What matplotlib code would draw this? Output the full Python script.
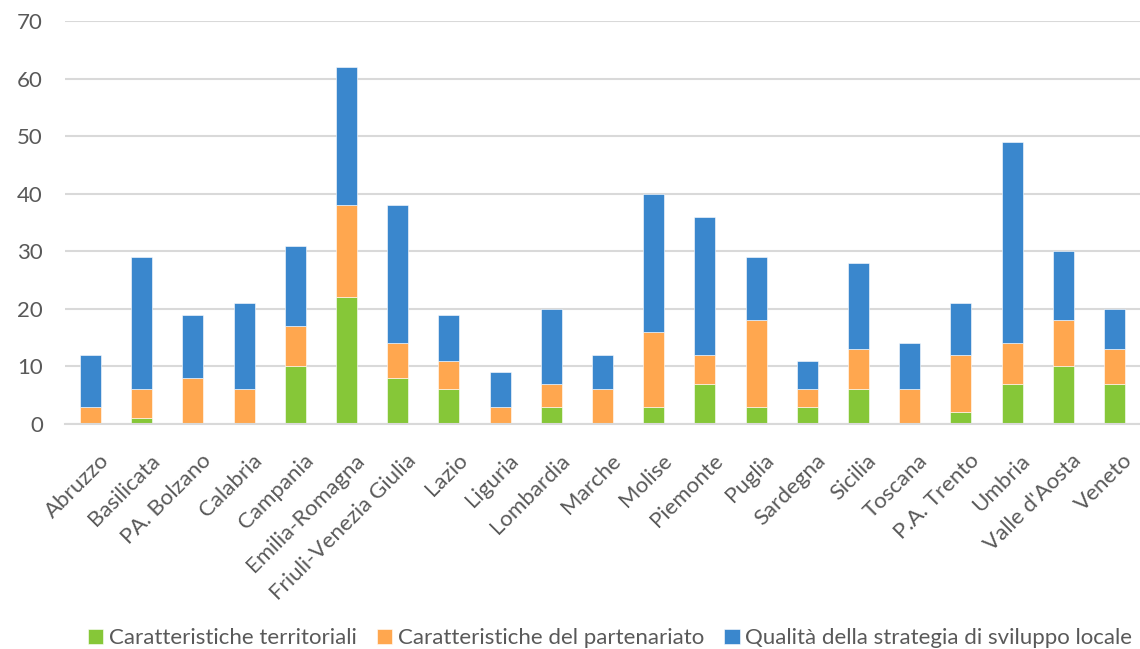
import numpy as np
import matplotlib.pyplot as plt
import matplotlib.transforms as mtransforms

plt.rcParams['font.family'] = ['Lato', 'DejaVu Sans']

regioni = ['Abruzzo', 'Basilicata', 'PA. Bolzano', 'Calabria', 'Campania',
           'Emilia-Romagna', 'Friuli-Venezia Giulia', 'Lazio', 'Liguria',
           'Lombardia', 'Marche', 'Molise', 'Piemonte', 'Puglia', 'Sardegna',
           'Sicilia', 'Toscana', 'P.A. Trento', 'Umbria', "Valle d'Aosta",
           'Veneto']

territoriali = [0, 1, 0, 0, 10, 22, 8, 6, 0, 3, 0, 3, 7, 3, 3, 6, 0, 2, 7, 10, 7]
partenariato = [3, 5, 8, 6, 7, 16, 6, 5, 3, 4, 6, 13, 5, 15, 3, 7, 6, 10, 7, 8, 6]
strategia = [9, 23, 11, 15, 14, 24, 24, 8, 6, 13, 6, 24, 24, 11, 5, 15, 8, 9, 35, 12, 7]

col_green = '#86C738'
col_orange = '#FFA74F'
col_blue = '#3A87CD'
grid_col = '#D9D9D9'
txt_col = '#595959'

fig = plt.figure(figsize=(11.4, 6.49), dpi=100)
ax = fig.add_axes([0.057, 0.3467, 0.943, 0.621])

x = np.arange(len(regioni))
terr = np.array(territoriali)
part = np.array(partenariato)
strat = np.array(strategia)
w = 0.41

ax.bar(x, terr, w, color=col_green, edgecolor='white', linewidth=0.4, zorder=3,
       label='Caratteristiche territoriali')
ax.bar(x, part, w, bottom=terr, color=col_orange, edgecolor='white', linewidth=0.4,
       zorder=3, label='Caratteristiche del partenariato')
ax.bar(x, strat, w, bottom=terr + part, color=col_blue, edgecolor='white', linewidth=0.4,
       zorder=3, label='Qualità della strategia di sviluppo locale')

ax.set_ylim(0, 70)
ax.set_xlim(-0.5, len(regioni) - 0.5)
ax.set_yticks(range(0, 71, 10))
ax.yaxis.grid(True, color=grid_col, linewidth=1.5, zorder=0)
ax.set_axisbelow(True)

for s in ['top', 'right', 'left']:
    ax.spines[s].set_visible(False)
ax.spines['bottom'].set_color(grid_col)
ax.spines['bottom'].set_linewidth(1.5)
ax.spines['bottom'].set_zorder(4)

ax.tick_params(axis='both', length=0, colors=txt_col, labelsize=16)
ax.tick_params(axis='y', pad=16)
ax.set_xticks(x)
ax.set_xticklabels(regioni, rotation=45, ha='right', rotation_mode='anchor')
ax.tick_params(axis='x', pad=19)

# nudge rotated labels a little to the right
shift = mtransforms.ScaledTranslation(8 / 100, 0, fig.dpi_scale_trans)
for lab in ax.get_xticklabels():
    lab.set_transform(lab.get_transform() + shift)

fig.legend(loc='lower center', bbox_to_anchor=(0.535, -0.03), ncol=3, frameon=False,
           fontsize=16, handlelength=0.7, handleheight=0.7, handletextpad=0.25,
           columnspacing=0.9, labelcolor=txt_col)

fig.savefig('out.png', dpi=100)
